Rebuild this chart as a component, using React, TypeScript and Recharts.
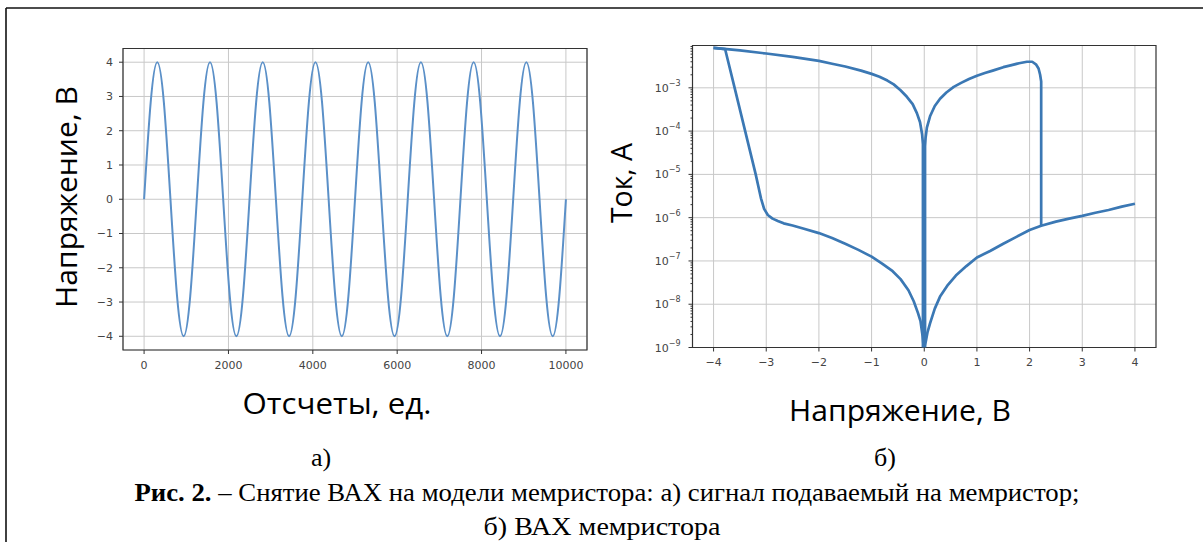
import React from "react";
import { LineChart, Line, XAxis, YAxis, CartesianGrid, ReferenceArea } from "recharts";

// a) signal fed to the memristor: samples (1/8 of a period apart)
const sampleT = [
  0, 156.25, 312.5, 468.75, 625, 781.25, 937.5, 1093.75,
  1250, 1406.25, 1562.5, 1718.75, 1875, 2031.25, 2187.5, 2343.75,
  2500, 2656.25, 2812.5, 2968.75, 3125, 3281.25, 3437.5, 3593.75,
  3750, 3906.25, 4062.5, 4218.75, 4375, 4531.25, 4687.5, 4843.75,
  5000, 5156.25, 5312.5, 5468.75, 5625, 5781.25, 5937.5, 6093.75,
  6250, 6406.25, 6562.5, 6718.75, 6875, 7031.25, 7187.5, 7343.75,
  7500, 7656.25, 7812.5, 7968.75, 8125, 8281.25, 8437.5, 8593.75,
  8750, 8906.25, 9062.5, 9218.75, 9375, 9531.25, 9687.5, 9843.75,
  10000,
];
const sampleV = [
  0, 2.83, 4, 2.83, 0, -2.83, -4, -2.83,
  0, 2.83, 4, 2.83, 0, -2.83, -4, -2.83,
  0, 2.83, 4, 2.83, 0, -2.83, -4, -2.83,
  0, 2.83, 4, 2.83, 0, -2.83, -4, -2.83,
  0, 2.83, 4, 2.83, 0, -2.83, -4, -2.83,
  0, 2.83, 4, 2.83, 0, -2.83, -4, -2.83,
  0, 2.83, 4, 2.83, 0, -2.83, -4, -2.83,
  0, 2.83, 4, 2.83, 0, -2.83, -4, -2.83,
  0,
];
const sigXTicks = [0, 2000, 4000, 6000, 8000, 10000];
const sigYTicks = [-4, -3, -2, -1, 0, 1, 2, 3, 4];

// б) I-V curve branches, [voltage, current]
const ivHrsRise = [
  [0.0, 1.0e-9], [0.03, 1.4e-9], [0.06, 2.2e-9], [0.11, 3.6e-9], [0.2, 7.9e-9],
  [0.3, 1.5e-8], [0.45, 2.8e-8], [0.6, 4.6e-8], [0.8, 7.6e-8], [1.0, 1.2e-7],
  [1.25, 1.7e-7], [1.5, 2.5e-7], [1.75, 3.6e-7], [2.0, 5.2e-7], [2.22, 6.5e-7],
  [2.5, 8.1e-7], [2.75, 9.5e-7], [3.0, 1.1e-6], [3.25, 1.3e-6], [3.5, 1.5e-6],
  [3.75, 1.8e-6], [4.0, 2.1e-6],
];
const ivLrsPos = [
  [2.22, 6.5e-7], [2.22, 1.4e-3], [2.2, 2.0e-3], [2.17, 2.8e-3], [2.12, 3.5e-3],
  [2.05, 4.0e-3], [1.95, 4.0e-3], [1.8, 3.7e-3], [1.64, 3.3e-3], [1.5, 3.0e-3],
  [1.3, 2.5e-3], [1.15, 2.2e-3], [1.0, 1.9e-3], [0.85, 1.6e-3], [0.7, 1.3e-3],
  [0.56, 1.05e-3], [0.42, 7.8e-4], [0.3, 5.6e-4], [0.2, 3.8e-4], [0.11, 2.2e-4],
  [0.05, 1.2e-4], [0.025, 7.0e-5], [0.015, 4.5e-5], [0.015, 1.0e-9],
];
const ivLrsNeg = [
  [-0.025, 1.0e-9], [-0.025, 5.0e-5], [-0.04, 8.3e-5], [-0.08, 1.6e-4], [-0.14, 2.6e-4],
  [-0.22, 4.2e-4], [-0.33, 6.2e-4], [-0.45, 8.8e-4], [-0.58, 1.2e-3], [-0.7, 1.47e-3],
  [-0.85, 1.8e-3], [-1.0, 2.1e-3], [-1.2, 2.5e-3], [-1.5, 3.1e-3], [-1.75, 3.6e-3],
  [-2.0, 4.2e-3], [-2.5, 5.2e-3], [-3.0, 6.2e-3], [-3.5, 7.3e-3], [-4.0, 8.4e-3],
];
const ivReset = [
  [-4.0, 8.4e-3], [-3.78, 7.8e-3], [-3.6, 1.0e-3], [-3.4, 1.0e-4], [-3.2, 1.0e-5],
  [-3.1, 2.8e-6], [-3.04, 1.6e-6], [-2.97, 1.15e-6], [-2.88, 9.5e-7], [-2.78, 8.4e-7],
  [-2.67, 7.4e-7], [-2.5, 6.6e-7], [-2.3, 5.6e-7], [-2.0, 4.4e-7], [-1.75, 3.4e-7],
  [-1.5, 2.5e-7], [-1.25, 1.8e-7], [-1.0, 1.26e-7], [-0.8, 8.7e-8], [-0.6, 5.8e-8],
  [-0.45, 3.8e-8], [-0.3, 2.1e-8], [-0.2, 1.17e-8], [-0.12, 6.3e-9], [-0.07, 4.0e-9],
  [-0.03, 1.8e-9], [-0.01, 1.0e-9],
];
const ivXTicks = [-4, -3, -2, -1, 0, 1, 2, 3, 4];
const ivYMajor = [1e-9, 1e-8, 1e-7, 1e-6, 1e-5, 1e-4, 1e-3];
const ivYMinor = ivYMajor.flatMap((d) => [2, 3, 4, 5, 6, 7, 8, 9].map((m) => m * d));

const signalData = sampleT.map((t, i) => ({ t, v: sampleV[i] }));
const toPts = (arr: number[][]) => arr.map(([v, i]) => ({ v, i }));

const TICK_FONT = "DejaVu Sans";
const TICK_COLOR = "#444";
const GRID = "#c8c8c8";
const SPINE = "#333";

const minus = (n: number) => String(n).replace("-", "\u2212");

function LogTick(props: any) {
  const { x, y, payload } = props;
  const val = payload.value;
  const e = Math.log10(val);
  const major = Math.abs(e - Math.round(e)) < 1e-6;
  return (
    <g>
      <line x1={x + (major ? 8 : 10)} x2={x + 12} y1={y} y2={y} stroke={SPINE} strokeWidth={1} />
      {major && (
        <text x={x} y={y + 4} textAnchor="end" fontFamily={TICK_FONT} fontSize={11} fill={TICK_COLOR}>
          10
          <tspan dy={-6} fontSize={8}>{"\u2212" + Math.abs(Math.round(e))}</tspan>
        </text>
      )}
    </g>
  );
}

export default function App() {
  const tickStyle = { fontFamily: TICK_FONT, fontSize: 11, fill: TICK_COLOR };
  return (
    <div style={{ position: "absolute", left: 0, top: 0, width: 1203, height: 542, background: "#fff" }}>
      <div style={{ position: "absolute", left: 0, top: 0 }}>
        <LineChart width={600} height={400} data={signalData} margin={{ top: 48.5, right: 13, left: 63, bottom: 20 }}>
          <CartesianGrid stroke={GRID} strokeWidth={1} />
          <XAxis
            dataKey="t"
            type="number"
            domain={[-500, 10500]}
            ticks={sigXTicks}
            allowDataOverflow
            axisLine={false}
            tickSize={4}
            tickMargin={7}
            tickLine={{ stroke: SPINE }}
            tick={tickStyle}
            height={30}
          />
          <YAxis
            type="number"
            domain={[-4.4, 4.4]}
            ticks={sigYTicks}
            allowDataOverflow
            axisLine={false}
            tickSize={4}
            tickMargin={6}
            tickLine={{ stroke: SPINE }}
            tick={tickStyle}
            tickFormatter={minus}
            width={60}
          />
          <ReferenceArea x1={-500} x2={10500} y1={-4.4} y2={4.4} fill="none" stroke={SPINE} strokeWidth={1.2} ifOverflow="visible" />
          <Line type="natural" dataKey="v" stroke="#5b90c8" strokeWidth={2} dot={false} activeDot={false} isAnimationActive={false} />
        </LineChart>
      </div>
      <div style={{ position: "absolute", left: 600, top: 0 }}>
        <LineChart width={603} height={400} margin={{ top: 45.5, right: 47, left: 32.5, bottom: 22.5 }}>
          <CartesianGrid stroke={GRID} strokeWidth={1} horizontalValues={ivYMajor} verticalValues={ivXTicks} />
          <XAxis
            dataKey="v"
            type="number"
            domain={[-4.4, 4.4]}
            ticks={ivXTicks}
            allowDataOverflow
            axisLine={false}
            tickSize={4}
            tickMargin={7}
            tickLine={{ stroke: SPINE }}
            tick={tickStyle}
            tickFormatter={minus}
            height={30}
          />
          <YAxis
            type="number"
            scale="log"
            domain={[1e-9, 9.5e-3]}
            ticks={[...ivYMajor, ...ivYMinor].sort((a, b) => a - b)}
            allowDataOverflow
            axisLine={false}
            tickSize={4}
            tickMargin={8}
            tickLine={false}
            tick={<LogTick />}
            interval={0}
            width={60}
          />
          <ReferenceArea x1={-4.4} x2={4.4} y1={1e-9} y2={9.5e-3} fill="none" stroke={SPINE} strokeWidth={1.2} ifOverflow="visible" />
          {[ivHrsRise, ivLrsPos, ivLrsNeg, ivReset].map((br, k) => (
            <Line
              key={k}
              data={toPts(br)}
              type="linear"
              dataKey="i"
              stroke="#3b78b4"
              strokeWidth={2.7}
              strokeLinejoin="round"
              dot={false}
              activeDot={false}
              isAnimationActive={false}
            />
          ))}
        </LineChart>
      </div>
      <svg width={1203} height={542} style={{ position: "absolute", left: 0, top: 0, pointerEvents: "none" }}>
        <line x1={6} y1={8} x2={1203} y2={8} stroke="#111" strokeWidth={1.6} />
        <line x1={6} y1={8} x2={6} y2={542} stroke="#111" strokeWidth={1.6} />
        <text x={337} y={414} textAnchor="middle" fontFamily="Open Sans" fontSize={30} textLength={189} lengthAdjust="spacingAndGlyphs" fill="#000">
          Отсчеты, ед.
        </text>
        <text transform="translate(77,197) rotate(-90)" textAnchor="middle" fontFamily="Open Sans" fontSize={30} textLength={222} lengthAdjust="spacingAndGlyphs" fill="#000">
          Напряжение, В
        </text>
        <text x={900} y={421} textAnchor="middle" fontFamily="Open Sans" fontSize={30} textLength={222} lengthAdjust="spacingAndGlyphs" fill="#000">
          Напряжение, В
        </text>
        <text transform="translate(632,183) rotate(-90)" textAnchor="middle" fontFamily="Open Sans" fontSize={30} textLength={80} lengthAdjust="spacingAndGlyphs" fill="#000">
          Ток, А
        </text>
        <text x={321} y={466} textAnchor="middle" fontFamily="Liberation Serif" fontSize={26} fill="#000">а)</text>
        <text x={885} y={466} textAnchor="middle" fontFamily="Liberation Serif" fontSize={26} fill="#000">б)</text>
        <text x={607} y={501} textAnchor="middle" fontFamily="Liberation Serif" fontSize={26} textLength={945} lengthAdjust="spacingAndGlyphs" fill="#000">
          <tspan fontWeight="bold">Рис. 2.</tspan> – Снятие ВАХ на модели мемристора: а) сигнал подаваемый на мемристор;
        </text>
        <text x={602} y={535} textAnchor="middle" fontFamily="Liberation Serif" fontSize={26} textLength={237} lengthAdjust="spacingAndGlyphs" fill="#000">
          б) ВАХ мемристора
        </text>
      </svg>
    </div>
  );
}
